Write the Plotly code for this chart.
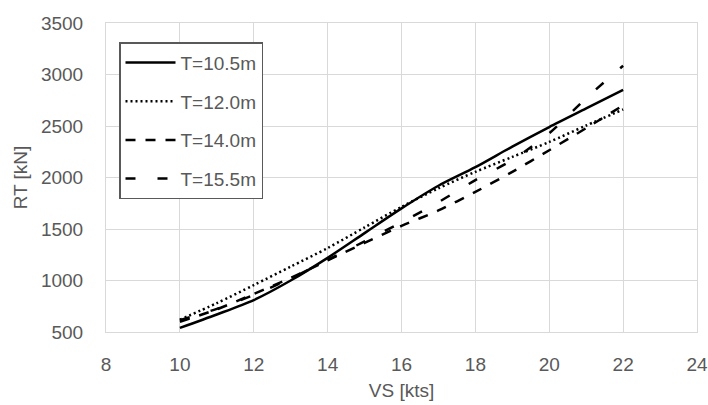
import plotly.graph_objects as go

VS = [10, 11, 12, 13, 14, 15, 16, 17, 18, 19, 20, 21, 22]
RT_10_5 = [540, 670, 810, 1000, 1220, 1460, 1700, 1920, 2100, 2300, 2490, 2670, 2850]
RT_12_0 = [620, 780, 955, 1135, 1315, 1515, 1715, 1895, 2055, 2200, 2345, 2505, 2660]
RT_14_0 = [600, 720, 870, 1025, 1195, 1365, 1530, 1680, 1860, 2055, 2265, 2480, 2700]
RT_15_5 = [615, 725, 860, 1020, 1200, 1380, 1565, 1760, 1975, 2170, 2430, 2770, 3085]

series = [
    ("T=10.5m", RT_10_5, "solid"),
    ("T=12.0m", RT_12_0, "2px,3px"),
    ("T=14.0m", RT_14_0, "10px,10px"),
    ("T=15.5m", RT_15_5, "10px,22px"),
]

FONT = "Liberation Sans, Arial, sans-serif"
GRAY = "#595959"
GRID = "#d9d9d9"
FS = 19

fig = go.Figure()
for i, (name, ys, dash) in enumerate(series):
    fig.add_trace(go.Scatter(
        x=VS, y=ys, name=name, mode="lines",
        line=dict(color="black", width=2.5, dash=dash, shape="spline", smoothing=0.8),
        legendgroup=str(i),
    ))

fig.update_layout(
    width=708, height=405,
    margin=dict(l=106, r=11, t=23, b=73),
    paper_bgcolor="white", plot_bgcolor="white",
    font=dict(family=FONT, size=FS, color=GRAY),
    showlegend=True,
    legend=dict(
        x=0.022, y=0.938, xanchor="left", yanchor="top",
        bgcolor="white", bordercolor=GRAY, borderwidth=1.5,
        font=dict(family=FONT, size=FS, color=GRAY),
        tracegroupgap=11, itemwidth=50,
    ),
    xaxis=dict(
        range=[8, 24], dtick=2, tick0=8, automargin=False,
        showgrid=True, gridcolor=GRID, gridwidth=1,
        showline=True, linecolor=GRID, linewidth=1, mirror=True,
        zeroline=False, ticks="", ticklabelstandoff=15,
        title=dict(text="VS [kts]", standoff=9, font=dict(size=FS, color=GRAY)),
    ),
    yaxis=dict(
        range=[500, 3500], dtick=500, tick0=500, automargin=False,
        showgrid=True, gridcolor=GRID, gridwidth=1,
        showline=True, linecolor=GRID, linewidth=1, mirror=True,
        zeroline=False, ticks="", ticklabelstandoff=18,
        title=dict(text="RT [kN]", standoff=8, font=dict(size=FS, color=GRAY)),
    ),
)

# remove the browser's default 8px body margin so the figure fills the window
fig.write_html(
    "out.html",
    config={"displayModeBar": False},
    post_script="document.body.style.margin='0';",
)
